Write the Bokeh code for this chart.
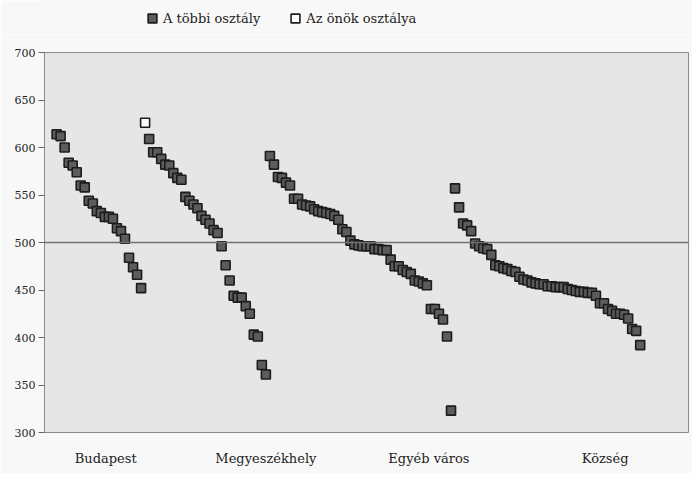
from bokeh.plotting import figure
from bokeh.layouts import column
from bokeh.models import ColumnDataSource, Legend, LegendItem, Span, FixedTicker, LinearAxis, Range1d
from bokeh.embed import file_html
from bokeh.resources import INLINE

# ---- data ----
groups = ["Budapest", "Megyeszékhely", "Egyéb város", "Község"]

budapest = [614, 612, 600, 584, 581, 574, 560, 558, 544, 541, 533, 531,
            527, 527, 525, 515, 512, 504, 484, 474, 466, 452]
megyeszekhely = [609, 595, 595, 588, 582, 581, 573, 568, 566, 548, 544, 540,
                 536, 528, 524, 520, 513, 510, 496, 476, 460, 444, 442, 442,
                 433, 425, 403, 401, 371, 361]
egyeb_varos = [591, 582, 569, 568, 563, 560, 546, 546, 540, 539, 538, 535,
               533, 532, 531, 530, 528, 524, 514, 511, 502, 498, 497, 496,
               496, 496, 493, 493, 492, 492, 482, 475, 475, 471, 469, 467,
               460, 459, 457, 455, 430, 430, 425, 419, 401, 323]
kozseg = [557, 537, 520, 518, 512, 499, 496, 494, 493, 487, 476, 475,
          473, 472, 470, 469, 464, 461, 460, 458, 457, 456, 456, 454,
          454, 453, 453, 453, 451, 450, 449, 448, 448, 447, 447, 444,
          436, 436, 430, 428, 425, 425, 424, 420, 409, 407, 392]

own_class_value = 626          # "Az önök osztálya" (first in the Megyeszékhely group)
own_class_group = "Megyeszékhely"

group_label_pos = [15.2, 55.0, 95.5, 139.3]
y_ticks = [300, 350, 400, 450, 500, 550, 600, 650, 700]
reference_line = 500

legend_other = "A többi osztály"
legend_own = "Az önök osztálya"

# ---- build sequential x positions ----
start = 3
ox, oy, wx, wy = [], [], [], []
i = start
for g, vals in zip(groups, [budapest, megyeszekhely, egyeb_varos, kozseg]):
    if g == own_class_group:
        wx.append(i); wy.append(own_class_value); i += 1
    for v in vals:
        ox.append(i); oy.append(v); i += 1

src_other = ColumnDataSource(dict(x=ox, y=oy))
src_own = ColumnDataSource(dict(x=wx, y=wy))

FONT = "DejaVu Serif"
PAGE_BG = "#f8f8f8"
FILL_OTHER = "#5c5c5c"
LINE_COL = "#1c1c1c"

W = 692
LEG_H = 34
MAIN_H = 439

# ---- main chart ----
p = figure(width=W, height=MAIN_H, output_backend="svg", toolbar_location=None,
           x_range=Range1d(0, 160), y_range=Range1d(300, 700),
           min_border_left=44, min_border_right=4, min_border_top=18, min_border_bottom=41,
           x_axis_location=None)
p.background_fill_color = "#e6e6e6"
p.border_fill_color = PAGE_BG
p.outline_line_color = "#8a8a8a"
p.outline_line_width = 1
p.xgrid.visible = False
p.ygrid.visible = False

ya = p.yaxis[0]
ya.ticker = FixedTicker(ticks=y_ticks)
ya.axis_line_color = "#8a8a8a"
ya.major_tick_line_color = "#666666"
ya.major_tick_out = 6
ya.major_tick_in = 0
ya.minor_tick_line_color = None
ya.major_label_text_font = FONT
ya.major_label_text_font_size = "11px"
ya.major_label_text_color = "#222222"
ya.major_label_standoff = 3

xa = LinearAxis(ticker=FixedTicker(ticks=group_label_pos),
                major_label_overrides={pos: g for pos, g in zip(group_label_pos, groups)})
xa.axis_line_color = None
xa.major_tick_line_color = None
xa.minor_tick_line_color = None
xa.major_label_text_font = FONT
xa.major_label_text_font_size = "13px"
xa.major_label_text_color = "#222222"
xa.major_label_standoff = 12
p.add_layout(xa, "below")

p.add_layout(Span(location=reference_line, dimension="width", line_color="#707070", line_width=1.5))

p.scatter("x", "y", source=src_other, marker="square", size=9,
          fill_color=FILL_OTHER, line_color=LINE_COL, line_width=1.6)
p.scatter("x", "y", source=src_own, marker="square", size=9,
          fill_color="#ffffff", line_color=LINE_COL, line_width=1.6)

# ---- legend strip above the chart (same data, outside its visible range) ----
lg = figure(width=W, height=LEG_H, output_backend="svg", toolbar_location=None,
            x_range=Range1d(0, W), y_range=Range1d(0, LEG_H),
            min_border_left=0, min_border_right=0, min_border_top=0, min_border_bottom=0,
            x_axis_location=None, y_axis_location=None)
lg.background_fill_color = PAGE_BG
lg.border_fill_color = PAGE_BG
lg.outline_line_color = None
lg.xgrid.visible = False
lg.ygrid.visible = False
k_other = lg.scatter("x", "y", source=src_other, marker="square", size=9,
                     fill_color=FILL_OTHER, line_color=LINE_COL, line_width=1.6)
k_own = lg.scatter("x", "y", source=src_own, marker="square", size=9,
                   fill_color="#ffffff", line_color=LINE_COL, line_width=1.6)
legend = Legend(items=[LegendItem(label=legend_other, renderers=[k_other]),
                       LegendItem(label=legend_own, renderers=[k_own])],
                orientation="horizontal", location=(97, 5),
                background_fill_alpha=0, border_line_color=None,
                padding=0, margin=0, spacing=24, label_standoff=-3,
                glyph_width=22, glyph_height=22, label_height=20,
                label_text_font=FONT, label_text_font_size="13px",
                label_text_color="#222222")
lg.add_layout(legend, "center")

layout = column(lg, p, spacing=0)
open("out.html", "w").write(file_html(layout, INLINE))
